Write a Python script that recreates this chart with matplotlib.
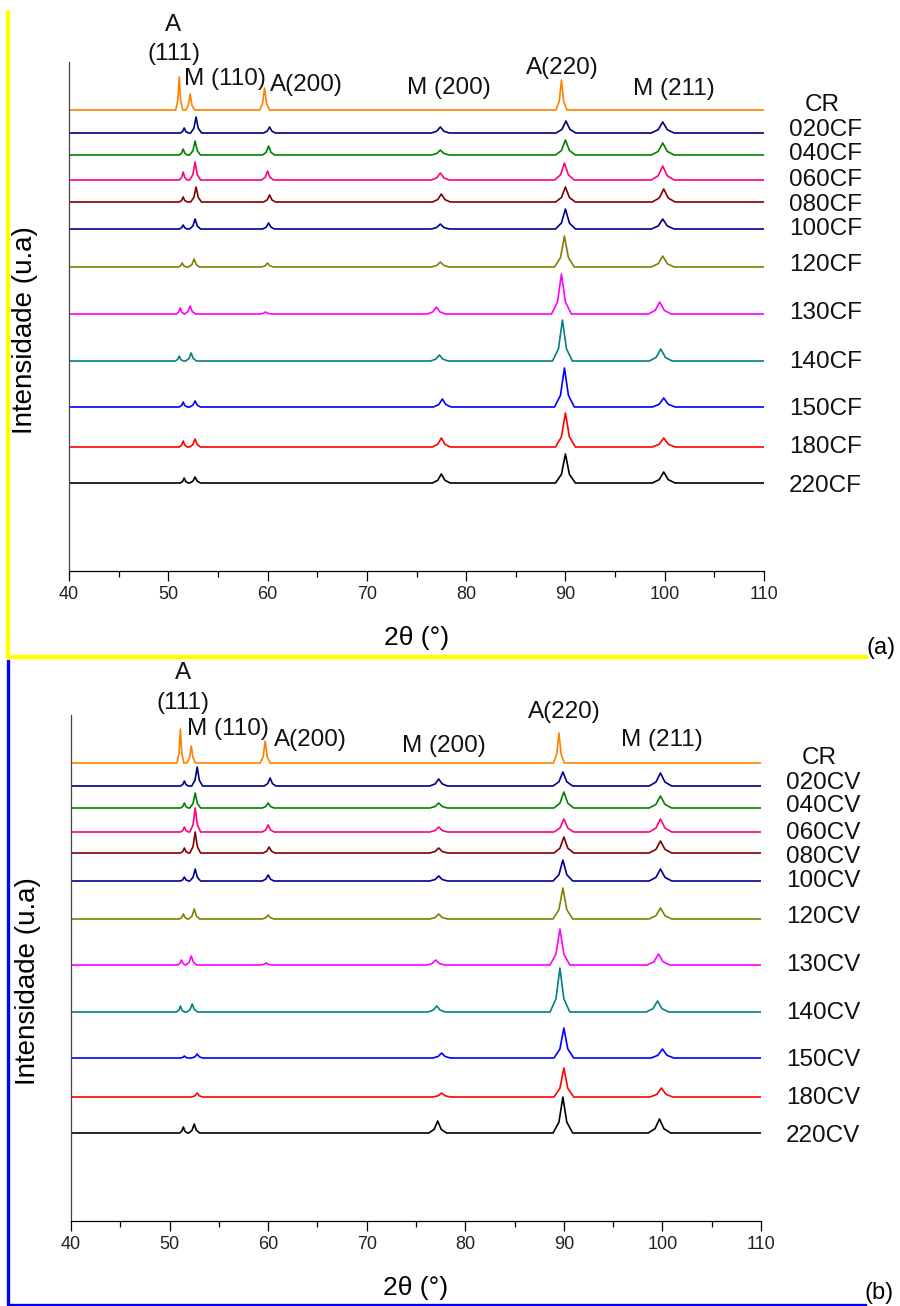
import numpy as np
import matplotlib.pyplot as plt
from matplotlib.lines import Line2D

plt.rcParams['font.family'] = ['Liberation Sans', 'DejaVu Sans']

W, H = 900, 1306

# samples, top to bottom
labels_cf = ['CR', '020CF', '040CF', '060CF', '080CF', '100CF',
             '120CF', '130CF', '140CF', '150CF', '180CF', '220CF']
labels_cv = ['CR', '020CV', '040CV', '060CV', '080CV', '100CV',
             '120CV', '130CV', '140CV', '150CV', '180CV', '220CV']
series_colors = ['#FF8000', '#000080', '#008000', '#FF0080', '#800000', '#000090',
                 '#808000', '#FF00FF', '#008080', '#0000FF', '#FF0000', '#000000']

# baseline of each pattern (u.a.)
offsets_cf = [461, 438, 416, 391, 369, 342, 304, 257, 210, 164, 124, 88]
offsets_cv = [458, 435, 413, 389, 368, 340, 302, 256, 209, 163, 124, 88]
# height of the sample names on the right
label_y_cf = [466, 441, 417, 391, 366, 342, 306, 258, 209, 162, 124, 85]
label_y_cv = [463, 438, 415, 388, 364, 340, 304, 256, 208, 161, 123, 85]

# reflections: A(111)/small, M(110), A(200), M(200), A(220), M(211)
halfwidth = [0.4, 0.55, 0.6, 0.9, 1.0, 1.15]
halfwidth_cr = [0.35, 0.45, 0.5, 0.9, 0.55, 1.15]

pos_cf = [
    [51.1, 52.2, 59.7, 77.4, 89.6, 99.8],
    [51.6, 52.8, 60.2, 77.4, 90.05, 99.8],
    [51.5, 52.7, 60.1, 77.4, 90.0, 99.8],
    [51.5, 52.7, 60.0, 77.4, 89.9, 99.8],
    [51.5, 52.8, 60.2, 77.5, 90.0, 99.9],
    [51.5, 52.7, 60.1, 77.4, 90.0, 99.8],
    [51.4, 52.6, 60.0, 77.4, 89.9, 99.8],
    [51.2, 52.2, 59.8, 77.0, 89.6, 99.5],
    [51.1, 52.3, 60.0, 77.3, 89.7, 99.6],
    [51.5, 52.7, 60.0, 77.6, 89.9, 99.9],
    [51.5, 52.7, 60.0, 77.5, 90.0, 99.9],
    [51.6, 52.7, 60.0, 77.5, 90.0, 99.9],
]
height_cf = [
    [33, 16, 22, 0, 30, 0],
    [5, 16, 6, 6, 12, 11],
    [6, 14, 9, 5, 15, 12],
    [8, 18, 9, 7, 17, 14],
    [5, 15, 7, 8, 15, 13],
    [4, 10, 6, 5, 20, 10],
    [4, 8, 4, 5, 31, 11],
    [6, 8, 2, 7, 40, 12],
    [5, 8, 0, 6, 41, 12],
    [5, 6, 0, 8, 39, 9],
    [6, 8, 0, 9, 34, 9],
    [5, 6, 0, 9, 29, 11],
]
pos_cv = [
    [51.1, 52.2, 59.7, 77.4, 89.5, 99.8],
    [51.5, 52.8, 60.2, 77.3, 89.9, 99.8],
    [51.5, 52.6, 60.0, 77.3, 90.0, 99.8],
    [51.5, 52.6, 60.0, 77.3, 90.0, 99.8],
    [51.5, 52.6, 60.1, 77.3, 90.0, 99.8],
    [51.5, 52.6, 60.0, 77.3, 89.9, 99.8],
    [51.4, 52.5, 60.0, 77.3, 89.9, 99.8],
    [51.2, 52.2, 59.8, 77.0, 89.6, 99.6],
    [51.1, 52.3, 60.0, 77.1, 89.6, 99.5],
    [51.5, 52.8, 60.0, 77.6, 90.0, 100.0],
    [51.5, 52.8, 60.0, 77.6, 90.0, 99.9],
    [51.4, 52.5, 60.0, 77.2, 89.9, 99.7],
]
height_cv = [
    [34, 17, 22, 0, 30, 0],
    [5, 19, 8, 7, 14, 13],
    [5, 15, 5, 5, 16, 12],
    [5, 24, 7, 5, 13, 13],
    [5, 21, 6, 5, 16, 12],
    [4, 12, 6, 5, 21, 12],
    [5, 10, 4, 5, 31, 11],
    [5, 9, 2, 5, 36, 11],
    [6, 8, 0, 6, 44, 11],
    [2, 4, 0, 5, 30, 9],
    [0, 4, 0, 4, 29, 9],
    [6, 9, 0, 12, 36, 14],
]

# peak annotations
annot_text = ['A', '(111)', 'M (110)', 'A(200)', 'M (200)', 'A(220)', 'M (211)']
annot_x_cf = [50.5, 50.6, 55.7, 63.9, 78.3, 89.7, 100.9]
annot_y_cf = [546, 517, 492, 486, 483, 503, 482]
annot_x_cv = [51.4, 51.4, 55.9, 64.3, 77.8, 90.0, 99.9]
annot_y_cv = [548, 518, 492, 481, 475, 509, 481]


def pattern(pos, h, widths, offset):
    xs, ys = [40.0], [offset]
    for p, hh, w in zip(pos, h, widths):
        xs += [p - w, p - 0.4 * w, p, p + 0.4 * w, p + w]
        ys += [offset, offset + 0.3 * hh, offset + hh, offset + 0.3 * hh, offset]
    xs.append(110.0)
    ys.append(offset)
    return xs, ys


fig = plt.figure(figsize=(W / 100, H / 100), dpi=100)

panels = [
    # axes rect in px (left, top, right, bottom), ymax, data...
    ((69, 62, 764, 571), 509, labels_cf, offsets_cf, label_y_cf, pos_cf, height_cf,
     annot_x_cf, annot_y_cf),
    ((71, 715, 761, 1221), 506, labels_cv, offsets_cv, label_y_cv, pos_cv, height_cv,
     annot_x_cv, annot_y_cv),
]

for rect, ymax, labels, offs, laby, pos, hts, ax_x, ax_y in panels:
    l, t, r, b = rect
    ax = fig.add_axes([l / W, 1 - b / H, (r - l) / W, (b - t) / H])
    for i in range(len(labels)):
        widths = halfwidth_cr if i == 0 else halfwidth
        xs, ys = pattern(pos[i], hts[i], widths, offs[i])
        ax.plot(xs, ys, color=series_colors[i], lw=1.2)
        ax.text(112.5 if labels[i] != 'CR' else 114.1, laby[i], labels[i],
                fontsize=17.5, ha='left', va='center', color='#111111')
    for txt, x, y in zip(annot_text, ax_x, ax_y):
        ax.text(x, y, txt, fontsize=17.5, ha='center', va='center', color='#111111')

    ax.set_xlim(40, 110)
    ax.set_ylim(0, ymax)
    ax.spines['top'].set_visible(False)
    ax.spines['right'].set_visible(False)
    ax.spines['left'].set_color('#444444')
    ax.spines['left'].set_linewidth(0.9)
    ax.spines['bottom'].set_linewidth(0.9)
    ax.set_yticks([])
    ax.set_xticks(np.arange(40, 111, 10))
    ax.set_xticks(np.arange(45, 110, 10), minor=True)
    ax.tick_params(axis='x', which='major', length=7, width=0.9, pad=4,
                   labelsize=13, labelcolor='#222222')
    ax.tick_params(axis='x', which='minor', length=4.3, width=0.9)

# axis titles
fig.text(25 / W, 1 - 330 / H, 'Intensidade (u.a)', rotation=90, fontsize=20,
         ha='center', va='center')
fig.text(28 / W, 1 - 981 / H, 'Intensidade (u.a)', rotation=90, fontsize=20,
         ha='center', va='center')
fig.text(417 / W, 1 - 645 / H, '2θ (°)', fontsize=19, ha='center', va='baseline')
fig.text(416 / W, 1 - 1295 / H, '2θ (°)', fontsize=19, ha='center', va='baseline')

# coloured frames around the two panels
fig.add_artist(Line2D([7.5 / W, 7.5 / W, 866 / W], [1 - 13 / H, 1 - 657 / H, 1 - 657 / H],
                      color='#FFFF00', lw=3.2, transform=fig.transFigure))
fig.add_artist(Line2D([8 / W, 8 / W, 865 / W], [1 - 661 / H, 1 - 1304.5 / H, 1 - 1304.5 / H],
                      color='#0000FF', lw=2.4, transform=fig.transFigure))
fig.text(867 / W, 1 - 654 / H, '(a)', fontsize=17, ha='left', va='baseline')
fig.text(865 / W, 1 - 1299 / H, '(b)', fontsize=17, ha='left', va='baseline')

fig.savefig('out.png', dpi=100)
